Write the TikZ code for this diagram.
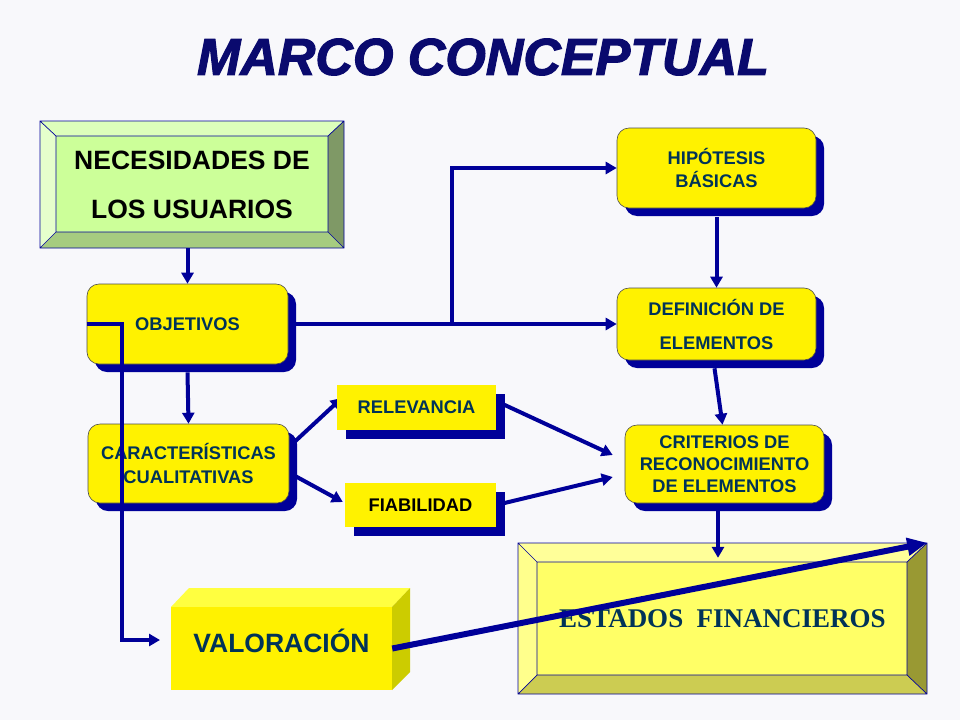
\documentclass[tikz,border=0pt]{standalone}
\usepackage{fontspec}
\setmainfont{Liberation Sans}
\newfontfamily\serifb{Liberation Serif}
\newfontfamily\titlefont{Liberation Sans}[BoldItalicFeatures={FakeBold=2.2}]
\usetikzlibrary{arrows.meta,shadows,calc}
\pgfdeclarelayer{bg}
\pgfdeclarelayer{conn}
\pgfsetlayers{bg,conn,main}
\definecolor{navy}{HTML}{000099}
\definecolor{titleblue}{HTML}{0A0A6E}
\definecolor{txt}{HTML}{003358}
\definecolor{bgcol}{HTML}{F8F8FB}
\definecolor{gface}{HTML}{CCFF99}
\definecolor{gtop}{HTML}{DDFFBB}
\definecolor{gleft}{HTML}{E6FFCC}
\definecolor{gright}{HTML}{7F9966}
\definecolor{gbot}{HTML}{A6CC80}
\definecolor{yface}{HTML}{FFFF66}
\definecolor{ytop}{HTML}{FFFF99}
\definecolor{yleft}{HTML}{FFFF8C}
\definecolor{yright}{HTML}{999933}
\definecolor{ybot}{HTML}{CCCC52}
\definecolor{vtop}{HTML}{FFFF40}
\definecolor{vright}{HTML}{CCCC00}
\begin{document}
\begin{tikzpicture}[x=1pt,y=-1pt,
  rbox/.style={draw=black!70, line width=0.6pt, fill=yellow, rounded corners=12pt,
    drop shadow={shadow xshift=8pt, shadow yshift=-8pt, fill=navy, opacity=1},
    font=\bfseries\fontsize{18.3}{23}\selectfont, text=txt, align=center, inner sep=0pt},
  sbox/.style={fill=yellow, draw=none,
    drop shadow={shadow xshift=9pt, shadow yshift=-9pt, fill=navy, opacity=1},
    font=\bfseries\fontsize{18.3}{23}\selectfont, text=txt, inner sep=0pt},
  conn/.style={draw=navy, line width=4pt, -{Triangle[length=11pt,width=12pt]}},
  bevel/.style={draw=navy, line width=0.7pt, line join=miter}]
\begin{pgfonlayer}{bg}
\fill[bgcol] (0,0) rectangle (960,720);
\end{pgfonlayer}
\useasboundingbox (0,0) rectangle (960,720);

% title
\node (title) at (483,57) {\titlefont\fontsize{52}{60}\selectfont\bfseries\itshape\color{titleblue}MARCO CONCEPTUAL};

% NECESIDADES bevel box
\fill[gtop] (40,121) -- (344,121) -- (328,136) -- (56,136) -- cycle;
\fill[gright] (344,121) -- (344,248) -- (328,232) -- (328,136) -- cycle;
\fill[gbot] (344,248) -- (40,248) -- (56,232) -- (328,232) -- cycle;
\fill[gleft] (40,248) -- (40,121) -- (56,136) -- (56,232) -- cycle;
\fill[gface] (56,136) rectangle (328,232);
\draw[bevel] (40,121) rectangle (344,248) (56,136) rectangle (328,232)
  (40,121) -- (56,136) (344,121) -- (328,136) (344,248) -- (328,232) (40,248) -- (56,232);
\node[minimum width=304pt, minimum height=127pt, inner sep=0pt, align=center,
  font=\bfseries\fontsize{26.5}{49}\selectfont] (nec) at (192,184.5) {NECESIDADES DE\\LOS USUARIOS};

% ESTADOS bevel box
\fill[ytop] (518,543) -- (927,543) -- (907,562) -- (537,562) -- cycle;
\fill[yright] (927,543) -- (927,694) -- (907,675) -- (907,562) -- cycle;
\fill[ybot] (927,694) -- (518,694) -- (537,675) -- (907,675) -- cycle;
\fill[yleft] (518,694) -- (518,543) -- (537,562) -- (537,675) -- cycle;
\fill[yface] (537,562) rectangle (907,675);
\draw[bevel] (518,543) rectangle (927,694) (537,562) rectangle (907,675)
  (518,543) -- (537,562) (927,543) -- (907,562) (927,694) -- (907,675) (518,694) -- (537,675);
\node[minimum width=409pt, minimum height=151pt, inner sep=0pt, text=txt,
  font=\serifb\bfseries\fontsize{27}{32}\selectfont] (est) at (722.5,618.5) {ESTADOS\ \ FINANCIEROS};

% VALORACION 3D box
\fill[vtop] (171,607) -- (189,588) -- (410,588) -- (392,607) -- cycle;
\fill[vright] (392,607) -- (410,588) -- (410,672) -- (392,690) -- cycle;
\node[fill=yellow, minimum width=221pt, minimum height=83pt, inner sep=0pt, text=txt,
  text height=18.6pt, text depth=11pt,
  font=\bfseries\fontsize{26.5}{30}\selectfont] (valor) at (281.5,648.5) {VALORACIÓN};

% rounded boxes
\node[rbox, minimum width=201pt, minimum height=80pt] (obj) at (187.5,324) {OBJETIVOS};
\node[rbox, minimum width=199pt, minimum height=80pt, font=\bfseries\fontsize{18.3}{23}\selectfont] (hip) at (716.5,168) {HIPÓTESIS\\BÁSICAS};
\node[rbox, minimum width=199pt, minimum height=72pt, font=\bfseries\fontsize{18.3}{34}\selectfont] (def) at (716.5,324) {DEFINICIÓN DE\\ELEMENTOS};
\node[rbox, minimum width=201pt, minimum height=79pt, font=\bfseries\fontsize{18.3}{24}\selectfont] (car) at (188.5,463.5) {CARACTERÍSTICAS\\CUALITATIVAS};
\node[rbox, minimum width=199pt, minimum height=78pt, font=\bfseries\fontsize{18.3}{22}\selectfont] (cri) at (724.5,464) {CRITERIOS DE\\RECONOCIMIENTO\\DE ELEMENTOS};
\node[sbox, minimum width=159pt, minimum height=45pt] (rel) at (416.5,407.5) {RELEVANCIA};
\node[sbox, minimum width=151pt, minimum height=44pt, text=black] (fia) at (420.5,505) {FIABILIDAD};

% connectors
\coordinate (br) at (452,324);
\coordinate (vin) at (160,640);
\begin{pgfonlayer}{conn}
\draw[conn] ($(rel.east)+(1,-6)$) -- ($(cri.west)+(-12,-9)$);
\draw[conn] (fia.east) -- ($(cri.west)+(-12,13)$);
\draw[conn] ($(car.east)+(4,-20.5)$) -- ($(rel.west)+(5,-9.5)$);
\draw[conn] ($(car.east)+(4,11.5)$) -- ($(fia.west)+(-2,-3)$);
\end{pgfonlayer}
\draw[conn] (nec.south -| obj.north) -- (obj.north);
\draw[conn] ($(obj.south)+(0,8)$) -- (car.north);
\draw[conn] ($(obj.east)+(8,0)$) -- (def.west);
\draw[conn] (br) |- (hip.west);
\draw[conn] ($(hip.south)+(0,9)$) -- (def.north);
\draw[conn] ($(def.south)+(-2,8)$) -- ($(cri.north)+(-2,0)$);
\draw[conn] ($(cri.south)+(-6.5,8)$) -- ($(est.north)+(-4.5,15)$);
\draw[conn, line join=miter] (obj.west) -| (122,640) -- (vin);
\draw[draw=navy, line width=6pt, -{Triangle[length=20pt,width=17pt]}] (valor.east) -- (est.north east);
\end{tikzpicture}
\end{document}
